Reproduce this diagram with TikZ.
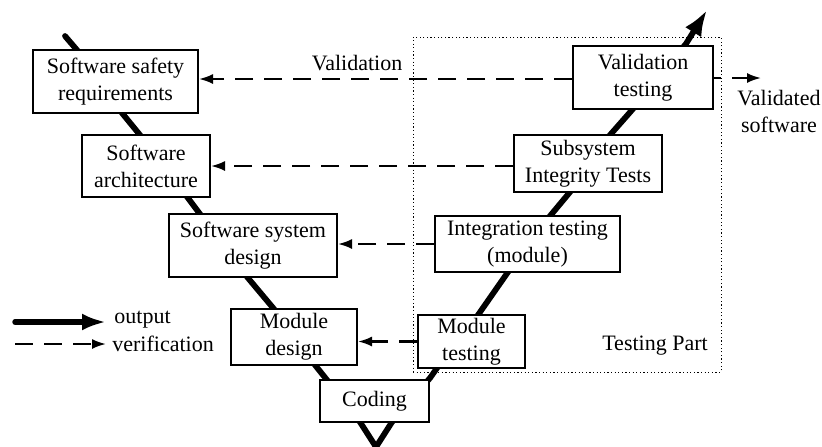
\documentclass[tikz,border=0pt]{standalone}
\usepackage{fontspec}
\setmainfont{Liberation Serif}
\usetikzlibrary{arrows.meta}
\begin{document}
\begin{tikzpicture}[x=0.5pt,y=-0.5pt,
  box/.style={draw, line width=1pt, fill=white, align=center, inner sep=0pt, font=\fontsize{11}{13.5}\selectfont},
  lbl/.style={align=center, inner sep=0pt, font=\fontsize{11}{13.5}\selectfont},
  vline/.style={line width=2.9pt, line join=round, line cap=round},
  verif/.style={line width=1.05pt, dash pattern=on 9pt off 5.5pt, -{Latex[length=7pt,width=5pt]}},
  outp/.style={line width=2.7pt, line cap=round, -{Latex[length=12pt,width=8.5pt]}},
  frame/.style={draw, line width=0.5pt, dash pattern=on 0.6pt off 1.2pt, inner sep=0pt}]
\useasboundingbox (0,0) rectangle (822,446);

% dotted testing frame
\node[frame, minimum width=154pt, minimum height=167.5pt] (testing) at (567,204.5) {};

% V backbone
\coordinate (vtop) at (65,36);
\coordinate (vbot) at (376,447);
\coordinate (vend) at (707,10);
\draw[vline] (vtop) -- (77,50) -- (122,113) -- (140,135) -- (188,198) -- (200,214)
  -- (248,278) -- (274,309) -- (315,365) -- (327,380) -- (360,422) -- (vbot)
  -- (392,422) -- (430,378) -- (437,368) -- (478,315) -- (508,272) -- (550,216)
  -- (570,192) -- (610,135) -- (632,110) -- (685,45);
\draw[vline, line cap=butt, -{Latex[length=13pt,width=9.5pt]}] (684,47) -- (vend);

% boxes
\node[box, minimum width=82.5pt, minimum height=31.5pt] (safety) at (115.5,81.5) {Software safety\\requirements};
\node[box, minimum width=64pt, minimum height=31pt] (arch) at (146,166) {Software\\architecture};
\node[box, minimum width=84pt, minimum height=31.5pt] (sysdes) at (253,245.5) {Software system\\design};
\node[box, minimum width=63pt, minimum height=28pt] (moddes) at (294,337) {Module\\design};
\node[box, minimum width=54.5pt, minimum height=21pt] (coding) at (374.5,401) {Coding};
\node[box, minimum width=53.5pt, minimum height=26.5pt] (modtest) at (471.5,341.5) {Module\\testing};
\node[box, minimum width=92.5pt, minimum height=28pt] (integ) at (527.5,244) {Integration testing\\(module)};
\node[box, minimum width=74pt, minimum height=28.5pt] (subsys) at (588,163.5) {Subsystem\\Integrity Tests};
\node[box, minimum width=70pt, minimum height=31.5pt] (valtest) at (643,77.5) {Validation\\testing};

% verification arrows
\draw[verif] ([yshift=-0.75pt]valtest.west) -- ([yshift=-0.75pt]valtest.west -| safety.east);
\draw[verif] (subsys.west |- arch.east) -- (arch.east);
\draw[verif] (integ.west) -- (integ.west -| sysdes.east);
\draw[verif] (modtest.west) -- (modtest.west -| moddes.east);
\coordinate (vout) at (761,78);
\draw[verif, dash phase=5.5pt] (valtest.east |- vout) -- (vout);

% labels
\node[lbl] (vlabel) at (357,63) {Validation};
\node[lbl] (vsw) at (779,111) {Validated\\software};
\node[lbl] (tp) at (655,346) {Testing Part};

% legend
\coordinate (lo1) at (15,322);
\coordinate (lo2) at (106,322);
\coordinate (lv1) at (15,344);
\coordinate (lv2) at (106,344);
\draw[outp] (lo1) -- (lo2);
\draw[verif] (lv1) -- (lv2);
\node[lbl, anchor=west] (lout) at (114,320) {output};
\node[lbl, anchor=west] (lver) at (112,344) {verification};
\end{tikzpicture}
\end{document}
